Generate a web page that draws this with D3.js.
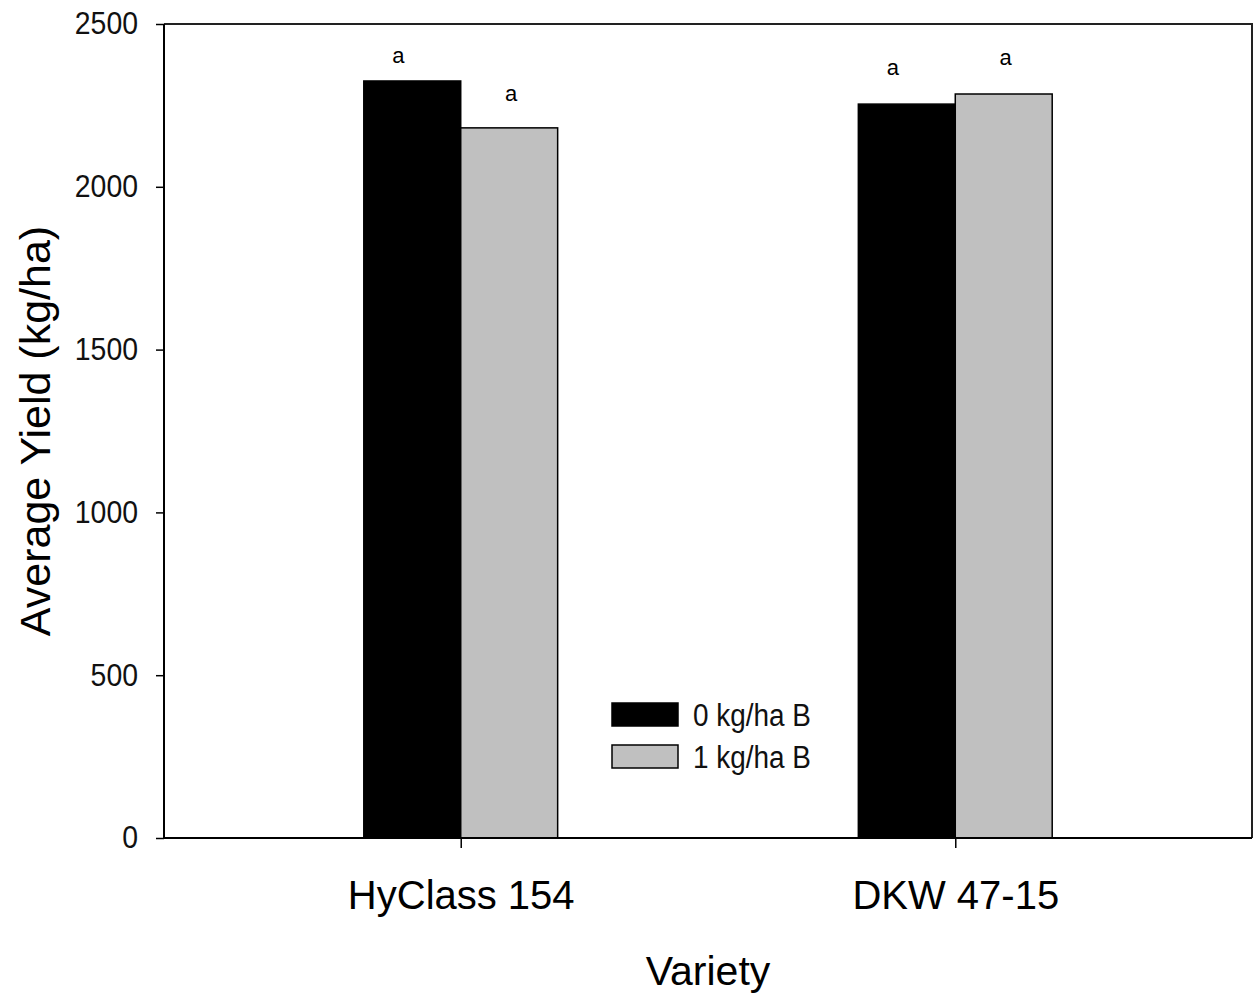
<!DOCTYPE html>
<html>
<head>
<meta charset="utf-8">
<script src="https://cdn.jsdelivr.net/npm/d3@7"></script>
<style>
  body { margin: 0; background: #fff; }
  svg { font-family: Arial, "Liberation Sans", sans-serif; }
</style>
</head>
<body>
<svg id="chart" width="1260" height="994"></svg>
<script>
// data
const varieties = ["HyClass 154", "DKW 47-15"]
const treatments = ["0 kg/ha B", "1 kg/ha B"]
const yield0 = [2325, 2254]
const yield1 = [2181, 2285]
const letters0 = ["a", "a"]
const letters1 = ["a", "a"]
// where the letters sit (in kg/ha)
const letterAt0 = [2380, 2343]
const letterAt1 = [2264, 2374]
const yTicks = [0, 500, 1000, 1500, 2000, 2500]

const colors = ["#000000", "#c0c0c0"]

let svg = d3.select("#chart")
let margin = { left: 164, top: 24, right: 8, bottom: 156 }
let W = 1260 - margin.left - margin.right
let H = 994 - margin.top - margin.bottom

let g = svg.append("g").attr("transform", "translate(" + margin.left + "," + margin.top + ")")

let x = d3.scalePoint().domain(varieties).range([0, W]).padding(0.6)
let y = d3.scaleLinear().domain([0, 2500]).range([H, 0])
let barW = x.step() * 0.196

let series = [
    { name: treatments[0], values: yield0, letters: letters0, letterAt: letterAt0, color: colors[0], off: -1, dx: -14 },
    { name: treatments[1], values: yield1, letters: letters1, letterAt: letterAt1, color: colors[1], off: 0, dx: 2 },
]

// bars
series.forEach((s) => {
    g.append("g")
        .selectAll("rect")
        .data(varieties)
        .enter()
        .append("rect")
        .attr("x", (d) => x(d) + s.off * barW)
        .attr("y", (d, i) => y(s.values[i]))
        .attr("width", barW)
        .attr("height", (d, i) => y(0) - y(s.values[i]))
        .attr("fill", s.color)
        .attr("stroke", "#000")
        .attr("stroke-width", 1.5)

    g.append("g")
        .selectAll("text")
        .data(varieties)
        .enter()
        .append("text")
        .attr("x", (d) => x(d) + s.off * barW + barW / 2 + s.dx)
        .attr("y", (d, i) => y(s.letterAt[i]))
        .attr("text-anchor", "middle")
        .style("font-size", "22px")
        .text((d, i) => s.letters[i])
})

// frame
g.append("path")
    .attr("d", "M0,0H" + W + "V" + H)
    .attr("fill", "none")
    .attr("stroke", "#222")
    .attr("stroke-width", 2)

// y axis
let yAxis = g.append("g").call(d3.axisLeft(y).tickValues(yTicks).tickSize(8).tickPadding(18).tickFormat(d3.format("d")))
yAxis.select(".domain").attr("stroke-width", 2).attr("d", "M0,0V" + H)
yAxis.selectAll(".tick line").attr("stroke-width", 1.5)
yAxis.selectAll("text")
    .style("font-size", "31px")
    .attr("fill", "#111")
    .attr("textLength", (d) => String(d).length * 15.8)
    .attr("lengthAdjust", "spacingAndGlyphs")

// x axis
let xAxis = g.append("g").attr("transform", "translate(0," + H + ")").call(d3.axisBottom(x).tickSize(10).tickPadding(33))
xAxis.select(".domain").attr("stroke-width", 2).attr("d", "M0,0H" + W)
xAxis.selectAll(".tick line").attr("stroke-width", 1.5)
xAxis.selectAll("text").style("font-size", "40px").attr("fill", "#000")

// axis titles
g.append("text")
    .attr("x", W / 2)
    .attr("y", H + 147)
    .attr("text-anchor", "middle")
    .style("font-size", "41px")
    .text("Variety")

g.append("text")
    .attr("transform", "translate(" + (50 - margin.left) + "," + H / 2 + ") rotate(-90)")
    .attr("text-anchor", "middle")
    .style("font-size", "43px")
    .text("Average Yield (kg/ha)")

// legend
let legend = g.append("g").attr("transform", "translate(" + (612 - margin.left) + "," + (703 - margin.top) + ")")
let items = legend.selectAll("g").data(series).enter().append("g").attr("transform", (d, i) => "translate(0," + i * 42 + ")")
items.append("rect")
    .attr("width", 66)
    .attr("height", 23)
    .attr("fill", (d) => d.color)
    .attr("stroke", "#000")
    .attr("stroke-width", 1.5)
items.append("text")
    .attr("x", 81)
    .attr("y", 23)
    .style("font-size", "31px")
    .attr("fill", "#111")
    .attr("textLength", 118)
    .attr("lengthAdjust", "spacingAndGlyphs")
    .text((d) => d.name)
</script>
</body>
</html>
